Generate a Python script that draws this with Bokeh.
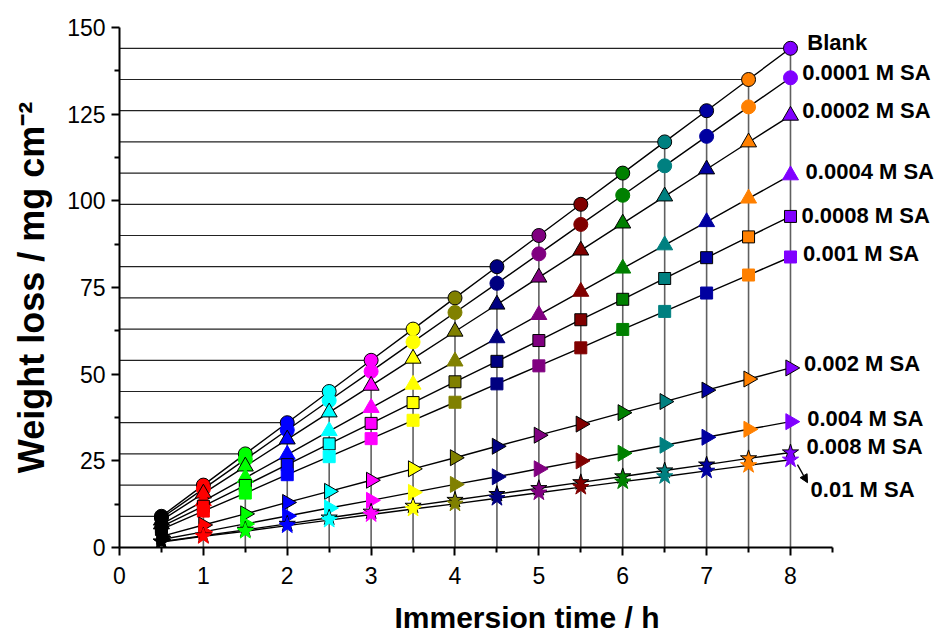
import numpy as np
from bokeh.plotting import figure
from bokeh.models import Range1d, FixedTicker, Arrow, NormalHead, ColumnDataSource
from bokeh.core.properties import value
from bokeh.embed import file_html
from bokeh.resources import INLINE

# ---------------- data ----------------
times = [0.5, 1.0, 1.5, 2.0, 2.5, 3.0, 3.5, 4.0, 4.5, 5.0, 5.5, 6.0, 6.5, 7.0, 7.5, 8.0]

point_colors = ["#000000", "#FF0000", "#00FF00", "#0000FF", "#00FFFF", "#FF00FF",
                "#FFFF00", "#808000", "#000080", "#800080", "#800000", "#008000",
                "#008080", "#0000A0", "#FF8000", "#8000FF"]

blank   = [9.0, 18.0, 27.0, 36.0, 45.0, 54.0, 63.0, 72.0, 81.0, 90.0, 99.0, 108.0, 117.0, 126.0, 135.0, 144.0]
sa_0001 = [8.5, 16.9, 25.4, 33.9, 42.4, 50.8, 59.3, 67.8, 76.2, 84.7, 93.2, 101.6, 110.1, 118.6, 127.1, 135.5]
sa_0002 = [7.8, 15.6, 23.4, 31.2, 39.0, 46.7, 54.5, 62.3, 70.1, 77.9, 85.7, 93.5, 101.3, 109.1, 116.9, 124.6]
sa_0004 = [6.7, 13.4, 20.1, 26.8, 33.6, 40.3, 47.0, 53.7, 60.4, 67.1, 73.8, 80.5, 87.2, 93.9, 100.7, 107.4]
sa_0008 = [6.0, 11.9, 17.9, 23.9, 29.9, 35.8, 41.8, 47.8, 53.7, 59.7, 65.7, 71.6, 77.6, 83.6, 89.6, 95.5]
sa_001  = [5.2, 10.5, 15.7, 21.0, 26.2, 31.4, 36.7, 41.9, 47.2, 52.4, 57.6, 62.9, 68.1, 73.4, 78.6, 83.8]
sa_002  = [3.2, 6.5, 9.7, 13.0, 16.2, 19.4, 22.7, 25.9, 29.2, 32.4, 35.6, 38.9, 42.1, 45.4, 48.6, 51.8]
sa_004  = [2.3, 4.5, 6.8, 9.1, 11.4, 13.6, 15.9, 18.2, 20.4, 22.7, 25.0, 27.2, 29.5, 31.8, 34.1, 36.3]
sa_008  = [1.7, 3.4, 5.1, 6.8, 8.6, 10.3, 12.0, 13.7, 15.4, 17.1, 18.8, 20.5, 22.2, 23.9, 25.7, 27.4]
sa_01   = [1.6, 3.2, 4.7, 6.3, 7.9, 9.5, 11.1, 12.6, 14.2, 15.8, 17.4, 19.0, 20.5, 22.1, 23.7, 25.3]

series = [blank, sa_0001, sa_0002, sa_0004, sa_0008, sa_001, sa_002, sa_004, sa_008, sa_01]
series_labels = ["Blank", "0.0001 M SA", "0.0002 M SA", "0.0004 M SA", "0.0008 M SA",
                 "0.001 M SA", "0.002 M SA", "0.004 M SA", "0.008 M SA", "0.01 M SA"]
series_markers = ["circle", "circle", "triangle", "triangle", "square", "square",
                  "triangle", "triangle", "star", "star"]
series_outlined = [True, False, True, False, True, False, True, False, True, False]

label_x = [8.20, 8.14, 8.14, 8.18, 8.13, 8.15, 8.16, 8.20, 8.19, 8.24]
label_y = [145.7, 137.1, 126.1, 108.5, 95.9, 84.9, 53.0, 37.1, 29.1, 16.7]

arrow_start = (8.083, 23.9)
arrow_end = (8.203, 18.7)

x_major = [0, 1, 2, 3, 4, 5, 6, 7, 8]
x_minor = [0.5, 1.5, 2.5, 3.5, 4.5, 5.5, 6.5, 7.5, 8.5]
y_major = [0, 25, 50, 75, 100, 125, 150]
y_minor = [12.5, 37.5, 62.5, 87.5, 112.5, 137.5]

FONT = "Liberation Sans"

# ---------------- figure ----------------
p = figure(width=934, height=636,
           x_range=Range1d(0, 9.717), y_range=Range1d(0, 150),
           output_backend="svg", toolbar_location=None,
           min_border_left=119, min_border_right=0,
           min_border_top=27, min_border_bottom=89)
p.outline_line_color = None
p.xgrid.visible = False
p.ygrid.visible = False
p.background_fill_color = "white"

# axes
for ax in (p.xaxis[0], p.yaxis[0]):
    ax.axis_line_width = 2
    ax.axis_line_color = "black"
    ax.major_tick_line_width = 2
    ax.minor_tick_line_width = 2
    ax.major_tick_out = 8
    ax.major_tick_in = 0
    ax.minor_tick_out = 5
    ax.minor_tick_in = 0
    ax.major_label_text_font = FONT
    ax.major_label_text_font_size = "23px"
    ax.major_label_text_color = "black"
    ax.axis_label_text_font = FONT
    ax.axis_label_text_font_style = "bold"
    ax.axis_label_text_color = "black"

p.xaxis[0].ticker = FixedTicker(ticks=x_major, minor_ticks=x_minor)
p.xaxis[0].bounds = (0, 8.5)
p.xaxis[0].axis_label = "Immersion time / h"
p.xaxis[0].axis_label_text_font_size = "30px"
p.xaxis[0].major_label_standoff = 11
p.xaxis[0].axis_label_standoff = 14

p.yaxis[0].ticker = FixedTicker(ticks=y_major, minor_ticks=y_minor)
p.yaxis[0].bounds = (0, 150)
p.yaxis[0].axis_label = "Weight loss / mg cm\u207B\u00B2"
p.yaxis[0].axis_label_text_font_size = "36px"
p.yaxis[0].major_label_standoff = 6
p.yaxis[0].axis_label_standoff = 12

# drop lines (vertical) and horizontal lines to the blank values
zeros = [0.0] * len(times)
p.segment(x0=times, y0=zeros, x1=times, y1=blank, line_color="#606060", line_width=1.6)
p.segment(x0=zeros, y0=blank, x1=times, y1=blank, line_color="#222222", line_width=1.2)

# series lines
for vals in series:
    p.line(times, vals, line_color="black", line_width=1.4)

# markers
marker_sizes = {"circle": 14, "triangle": 16, "square": 12, "star": 17}
for i, vals in enumerate(series):
    m = series_markers[i]
    angle = -np.pi / 2 if i in (6, 7) else 0.0
    src = ColumnDataSource(dict(x=times, y=vals, c=point_colors))
    if series_outlined[i]:
        p.scatter("x", "y", source=src, marker=m, size=marker_sizes[m], angle=angle,
                  fill_color="c", line_color="black", line_width=1)
    else:
        p.scatter("x", "y", source=src, marker=m, size=marker_sizes[m], angle=angle,
                  fill_color="c", line_color="c", line_width=1)

# series labels
p.text(x=label_x, y=label_y, text=series_labels,
       text_font=value(FONT), text_font_style="bold", text_font_size="22px",
       text_baseline="middle", text_align="left", text_color="black")

p.add_layout(Arrow(end=NormalHead(size=8, fill_color="black", line_color="black"),
                   x_start=arrow_start[0], y_start=arrow_start[1],
                   x_end=arrow_end[0], y_end=arrow_end[1],
                   line_color="black", line_width=1.3))

open("out.html", "w").write(file_html(p, INLINE))
